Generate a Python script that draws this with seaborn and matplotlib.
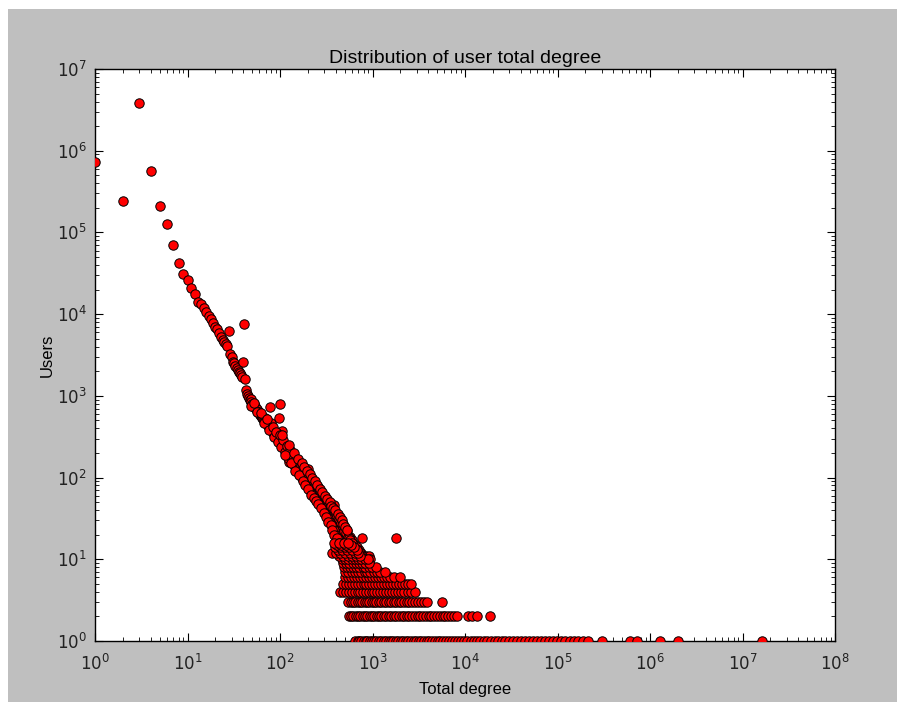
import matplotlib
matplotlib.use("Agg")
import matplotlib.pyplot as plt
import seaborn as sns
import pandas as pd
from matplotlib.patches import Rectangle
from matplotlib.ticker import LogLocator, NullFormatter

# ---- data ----
head_degree = list(range(1, 45))
head_users = [730000, 245000, 3810000, 571000, 213000, 126000, 69700, 42700, 31000, 26200,
              21100, 17700, 14000, 13300, 11800, 10700, 9600, 8700, 7900, 7000,
              6500, 5800, 5200, 4800, 4500, 4300, 4100, 6200, 3230, 2970,
              2620, 2500, 2340, 2200, 2080, 1980, 1890, 1800, 1720, 2580,
              7650, 1630, 1180, 1050]

band_degree = [45, 46, 47, 48, 49, 50, 51, 52, 53, 54, 55, 56, 57, 58, 59, 60, 61, 62, 63, 64,
               65, 66, 67, 68, 69, 70, 71, 72, 73, 74, 75, 76, 77, 78, 79, 80, 81, 82, 84, 85,
               86, 88, 89, 90, 92, 93, 94, 96, 97, 98, 99, 100, 101, 102, 103, 104, 106, 107, 108, 110,
               111, 112, 114, 116, 117, 118, 120, 121, 122, 124, 126, 127, 128, 130, 132, 133, 135, 137, 138, 140,
               142, 143, 146, 148, 150, 151, 153, 156, 158, 160, 163, 166, 168, 170, 174, 176, 178, 180, 182, 186,
               188, 190, 192, 194, 197, 200, 202, 206, 208, 210, 215, 218, 220, 222, 225, 230, 233, 235, 240, 242,
               245, 250, 252, 255, 260, 262, 265, 270, 272, 275, 280, 285, 288, 290, 294, 300, 302, 305, 310, 315,
               318, 320, 325, 330, 335, 340, 345, 350, 355, 360, 362, 365, 370, 375, 380, 386, 390, 393, 400, 405,
               410, 415, 420, 425, 430, 435, 440, 445, 450, 455, 460, 465, 470, 475, 480, 482, 490, 495, 500, 505,
               510, 515, 520, 525, 530, 535, 540, 545, 550, 560, 565, 570, 580, 585, 590, 600, 610, 620, 630, 640,
               650, 660, 670, 680, 690, 700, 720, 740, 760, 776, 790, 820, 850, 880, 910, 940, 1800]
band_users = [990, 930, 880, 905, 830, 800, 770, 795, 730, 750, 690, 670, 700, 640, 610, 630, 590, 560, 585, 540,
              555, 520, 500, 530, 480, 470, 500, 455, 470, 430, 445, 420, 430, 740, 462, 400, 385, 370, 385, 355,
              350, 340, 325, 320, 335, 305, 300, 310, 285, 540, 290, 790, 270, 262, 280, 375, 255, 240, 245, 250,
              232, 230, 225, 215, 205, 207, 220, 196, 200, 190, 156, 182, 185, 180, 175, 165, 165, 158, 170, 160,
              148, 150, 155, 138, 140, 122, 150, 130, 126, 135, 125, 128, 112, 120, 115, 106, 118, 95, 108, 105,
              98, 100, 88, 95, 90, 97, 126, 90, 82, 92, 84, 76, 88, 70, 78, 80, 70, 74, 76, 66,
              70, 72, 62, 64, 67, 55, 62, 60, 52, 64, 56, 58, 48, 53, 57, 50, 42, 52, 47, 49,
              40, 45, 38, 44, 36, 41, 34, 42, 32, 38, 12, 30, 36, 29, 37, 46, 27, 35, 32, 26,
              30, 24, 31, 22, 28, 21, 29, 19, 26, 20, 25, 18, 27, 17, 23, 27, 22, 16, 24, 15,
              21, 14, 20, 13, 22, 12, 19, 11, 18, 17, 13, 19, 16, 12, 15, 17, 11, 14, 12, 15,
              11, 13, 12, 14, 11, 12, 13, 11, 12, 18, 11, 10, 11, 10, 11, 10, 18]

# second scatter of points around the band (upper / lower edge)
spread_degree = [48, 53, 57, 62, 67, 72, 76, 83, 87, 91, 95, 100, 103, 109, 113, 119, 123, 129, 134, 139,
                 145, 149, 155, 159, 165, 169, 175, 179, 185, 189, 196, 199, 205, 212, 219, 226, 232, 238, 248, 256,
                 264, 274, 283, 292, 298, 308, 313, 322, 328, 338, 348, 356, 366, 374, 384, 396, 408, 418, 428, 438,
                 448, 458, 468, 478, 488, 498, 508, 518, 528, 538, 548, 558, 568, 578, 588, 598, 615, 635, 655, 675,
                 695, 715, 735, 755, 775, 800]
spread_users = [760, 820, 640, 620, 470, 520, 380, 420, 315, 360, 270, 330, 240, 285, 205, 245, 175, 215, 150, 190,
                135, 170, 120, 155, 108, 140, 100, 130, 90, 118, 80, 110, 75, 100, 66, 90, 62, 82, 56, 76,
                50, 68, 45, 62, 40, 58, 37, 52, 33, 48, 29, 44, 26, 40, 23, 38, 20, 34, 18, 31,
                16, 28, 15, 25, 14, 22, 13, 21, 12, 19, 11, 18, 10, 17, 10, 16, 14, 13, 12, 13,
                12, 11, 12, 10, 11, 10]

# outer edge of the band
outer_degree = [105, 112, 125, 131, 142, 147, 157, 162, 172, 177, 183, 187, 195, 203, 210, 217, 224, 231, 237, 244,
                253, 258, 268, 277, 287, 296, 304, 316, 326, 333, 343, 352, 358, 368, 378, 388, 398, 412, 422, 433,
                442, 452, 463, 473, 485, 493, 503, 515, 525]
outer_users = [330, 190, 250, 150, 200, 120, 170, 108, 150, 90, 135, 82, 120, 72, 110, 62, 98, 57, 90, 52,
               82, 47, 72, 42, 66, 37, 60, 33, 55, 29, 50, 26, 45, 23, 42, 20, 40, 18, 36, 16,
               33, 14, 30, 13, 27, 12, 25, 11, 23]

row_counts = [1, 2, 3, 4, 5, 6, 7, 8, 9, 10, 11, 12, 13, 14, 15, 16]
row_degrees = [
    [650, 690, 720, 760, 800, 850, 880, 930, 990, 1040, 1100, 1180, 1250, 1320, 1400, 1490, 1570,
     1660, 1780, 1890, 2010, 2150, 2290, 2420, 2600, 2790, 2950, 3150, 3380, 3600, 3870, 4120, 4400,
     4730, 5050, 5400, 5800, 6250, 6700, 7200, 7800, 8400, 9100, 9800, 10600, 11500, 12400, 13500,
     14700, 16000, 17500, 19100, 20900, 22800, 25000, 27400, 30100, 33000, 36300, 40000, 44100,
     48700, 53800, 59500, 65800, 72900, 80800, 89600, 99400, 110000, 122000, 136000, 151000,
     168000, 187000, 213000, 300000, 610000, 720000, 1280000, 2000000, 16400000],
    [555, 590, 620, 660, 700, 740, 780, 830, 880, 930, 990, 1050, 1110, 1180, 1250, 1330, 1410,
     1500, 1600, 1700, 1810, 1930, 2060, 2200, 2350, 2510, 2680, 2870, 3070, 3290, 3520, 3770,
     4040, 4330, 4640, 4980, 5340, 5730, 6150, 6600, 7080, 7600, 8150, 10700, 11900, 13500, 18600],
    [550, 580, 610, 650, 690, 730, 770, 820, 870, 920, 980, 1040, 1100, 1170, 1240, 1320, 1400,
     1490, 1590, 1690, 1800, 1920, 2050, 2190, 2340, 2500, 2680, 2880, 3100, 3350, 3600, 3900, 5700],
    [445, 480, 520, 560, 600, 640, 690, 740, 790, 850, 910, 980, 1050, 1130, 1210, 1300, 1400,
     1500, 1620, 1750, 1890, 2040, 2200, 2400, 2620, 2880],
    [480, 520, 560, 600, 650, 700, 750, 800, 860, 920, 990, 1060, 1140, 1230, 1320, 1420, 1530,
     1650, 1780, 1920, 2080, 2250, 2440, 2640],
    [500, 540, 580, 630, 680, 730, 790, 850, 910, 980, 1060, 1140, 1230, 1330, 1440, 1560, 1700, 1980],
    [510, 550, 600, 650, 700, 760, 820, 880, 950, 1030, 1120, 1220, 1360],
    [490, 530, 570, 620, 670, 720, 780, 840, 910, 990, 1080],
    [480, 520, 560, 610, 660, 710, 770, 840, 920],
    [470, 510, 550, 600, 650, 700, 760, 830, 900],
    [430, 480, 540, 600, 660, 730],
    [400, 450, 510, 570, 640, 700],
    [420, 470, 530, 600, 680],
    [390, 440, 500, 560, 630],
    [410, 460, 520, 590],
    [380, 430, 490, 550],
]

title = "Distribution of user total degree"
xlabel = "Total degree"
ylabel = "Users"

# ---- table ----
degree = (head_degree + band_degree + spread_degree + outer_degree
          + [d for r in row_degrees for d in r])
users = (head_users + band_users + spread_users + outer_users
         + [c for c, r in zip(row_counts, row_degrees) for _ in r])
df = pd.DataFrame({xlabel: degree, ylabel: users})

sns.set_theme(style="white")
plt.rcParams["font.family"] = ["DejaVu Sans"]
plt.rcParams["axes.facecolor"] = "white"

W, H = 897, 702
fig = plt.figure(figsize=(W / 100, H / 100), dpi=100, facecolor="white")
fig.patches.append(Rectangle((8 / W, 0), 1 - 8 / W, 1 - 9 / H, transform=fig.transFigure,
                             facecolor="#bfbfbf", edgecolor="none", zorder=-10))
ax = fig.add_axes([95 / W, 1 - 641 / H, 740 / W, 572 / H])

sns.scatterplot(data=df, x=xlabel, y=ylabel, color="#ff0000", edgecolor="black",
                linewidth=0.7, s=46, ax=ax, legend=False, zorder=3)

ax.set_xscale("log")
ax.set_yscale("log")
ax.set_xlim(1, 1e8)
ax.set_ylim(1, 1e7)
ax.set_xticks([10.0 ** i for i in range(9)])
ax.set_yticks([10.0 ** i for i in range(8)])
ax.xaxis.set_minor_locator(LogLocator(base=10, subs=range(2, 10), numticks=100))
ax.yaxis.set_minor_locator(LogLocator(base=10, subs=range(2, 10), numticks=100))
ax.xaxis.set_minor_formatter(NullFormatter())
ax.yaxis.set_minor_formatter(NullFormatter())

ax.tick_params(which="both", direction="in", top=True, right=True, bottom=True, left=True,
               colors="black", labelcolor="#222222", labelsize=12)
ax.tick_params(which="major", length=6, width=0.8)
ax.tick_params(axis="y", which="major", pad=6)
ax.tick_params(axis="x", which="major", pad=9)
ax.tick_params(which="minor", length=3, width=0.6)
for s in ax.spines.values():
    s.set_color("black")
    s.set_linewidth(1.0)

ax.set_title(title, fontsize=14, family=["Liberation Sans", "DejaVu Sans"], color="black", pad=4)
ax.set_xlabel(xlabel, fontsize=12, family=["Liberation Sans", "DejaVu Sans"], color="black", labelpad=6)
ax.set_ylabel(ylabel, fontsize=12, family=["Liberation Sans", "DejaVu Sans"], color="black", labelpad=1.5)

fig.savefig("out.png", dpi=100, facecolor=fig.get_facecolor())
